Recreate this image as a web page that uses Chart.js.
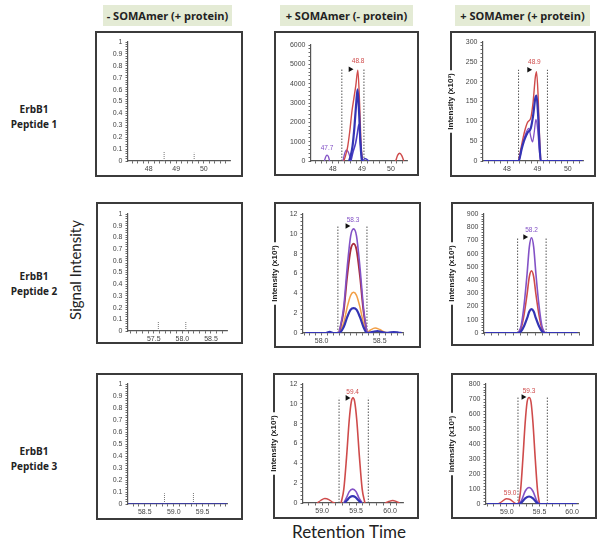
<!DOCTYPE html>
<html>
<head>
<meta charset="utf-8">
<script src="https://cdn.jsdelivr.net/npm/chart.js@4.4.0/dist/chart.umd.min.js"></script>
<style>
  body { margin:0; width:602px; height:547px; background:#fff; position:relative; overflow:hidden; font-family:"Open Sans", sans-serif; }
  .hdr { position:absolute; top:5px; height:21px; background:#e4ebd5; color:#222; font-weight:700; font-size:11px;
         display:flex; align-items:center; justify-content:center; white-space:nowrap; }
  .rowlab { position:absolute; left:0; width:68px; text-align:center; font-weight:700; font-size:10px; line-height:15px; color:#222; }
  .axt { position:absolute; font-family:Lato, sans-serif; color:#222; white-space:nowrap; }
  canvas { position:absolute; }
</style>
</head>
<body>
<div class="hdr" style="left:103px;width:129px;">- SOMAmer (+ protein)</div>
<div class="hdr" style="left:280px;width:133px;">+ SOMAmer (- protein)</div>
<div class="hdr" style="left:455px;width:135px;">+ SOMAmer (+ protein)</div>

<div class="rowlab" style="top:102px;">ErbB1<br>Peptide 1</div>
<div class="rowlab" style="top:269px;">ErbB1<br>Peptide 2</div>
<div class="rowlab" style="top:444px;">ErbB1<br>Peptide 3</div>

<div class="axt" style="left:75px;top:270px;font-size:15px;transform:translate(-50%,-50%) rotate(-90deg);">Signal Intensity</div>
<div class="axt" style="left:349px;top:531px;font-size:17px;transform:translate(-50%,-50%);">Retention Time</div>

<script>
const FONT = 'Arial, "Liberation Sans", sans-serif';
const TITLE = 'Intensity (x10\u00B3)';
const RED = '#cf4b4b', DRED = '#a82c3c', BLUE = '#3434b4', BLUE2 = '#4a3cc4', PURPLE = '#8352c6', ORANGE = '#f2a048';

// column 1: no signal, only the faint integration marks [x, height]
const p1Marks = [[48.56, 0.078], [49.65, 0.07]];
const p4Marks = [[57.58, 0.08], [58.06, 0.08]];
const p7Marks = [[58.84, 0.09], [59.34, 0.1]];
const p7Base = [[58.21, 0], [59.92, 0]];

// peptide 1, + SOMAmer (- protein)
const p2Red = [[48.38,0],[48.44,300],[48.50,650],[48.58,1500],[48.66,2600],[48.72,3200],[48.79,3900],[48.86,4700],[48.92,3000],[48.97,900],[49.02,0]];
const p2RedBump = [[50.16,0],[50.23,300],[50.30,400],[50.37,280],[50.44,0]];
const p2Blue = [[48.56,0],[48.62,300],[48.68,800],[48.74,1700],[48.80,2900],[48.85,3700],[48.90,2600],[48.95,900],[49.00,0]];
const p2Blue2 = [[48.62,0],[48.70,500],[48.78,900],[48.84,1400],[48.90,1900],[48.95,1000],[49.00,0]];
const p2BlueTail = [[49.04,0],[49.10,130],[49.17,80],[49.24,0]];
const p2Purple = [[47.71,0],[47.75,200],[47.80,300],[47.85,220],[47.89,0]];
const p2Purple2 = [[48.35,0],[48.40,350],[48.46,560],[48.52,500],[48.58,250],[48.62,0]];

// peptide 1, + SOMAmer (+ protein)
const p3Red = [[48.38,0],[48.48,40],[48.58,75],[48.68,98],[48.78,108],[48.86,150],[48.93,210],[48.97,225],[49.02,170],[49.07,60],[49.11,0]];
const p3Blue = [[47.25,0],[48.38,0],[48.48,30],[48.58,55],[48.68,72],[48.78,82],[48.86,115],[48.93,158],[48.97,165],[49.02,120],[49.07,40],[49.11,0],[50.48,0]];
const p3Purple = [[48.40,0],[48.52,45],[48.62,70],[48.72,82],[48.78,62],[48.84,48],[48.90,75],[48.95,105],[49.00,85],[49.06,30],[49.10,0]];

// peptide 2, + SOMAmer (- protein)
const p5Purple = [[58.15,0],[58.19,2.6],[58.22,6.6],[58.25,9.8],[58.275,10.5],[58.30,9.8],[58.33,6.6],[58.36,2.6],[58.39,0]];
const p5Red = [[58.15,0],[58.19,2.2],[58.22,5.7],[58.25,8.4],[58.275,9.0],[58.30,8.4],[58.33,5.7],[58.36,2.2],[58.39,0]];
const p5Orange = [[58.15,0],[58.19,1.0],[58.22,2.6],[58.25,3.8],[58.275,4.1],[58.30,3.8],[58.33,2.6],[58.36,1.0],[58.39,0.05],[58.42,0.3],[58.46,0.5],[58.50,0.35],[58.55,0.05],[58.62,0]];
const p5Blue = [[57.86,0],[58.03,0],[58.07,0.12],[58.10,0],[58.15,0],[58.19,0.6],[58.22,1.6],[58.25,2.35],[58.275,2.5],[58.30,2.35],[58.33,1.6],[58.36,0.6],[58.39,0],[58.44,0.12],[58.48,0.2],[58.52,0.1],[58.57,0.02],[58.62,0.1],[58.66,0.05],[58.69,0]];

// peptide 2, + SOMAmer (+ protein)
const p6Purple = [[58.02,0],[58.06,60],[58.10,220],[58.14,450],[58.17,650],[58.20,720],[58.23,650],[58.26,450],[58.30,220],[58.34,60],[58.38,0]];
const p6Red = [[58.02,0],[58.06,40],[58.10,145],[58.14,295],[58.17,425],[58.20,470],[58.23,425],[58.26,295],[58.30,145],[58.34,40],[58.38,0]];
const p6Blue = [[57.57,0],[58.02,0],[58.06,15],[58.10,55],[58.14,112],[58.17,162],[58.20,180],[58.23,162],[58.26,112],[58.30,55],[58.34,15],[58.38,0],[58.83,0]];

// peptide 3, + SOMAmer (- protein)
const p8Red = [[59.28,0],[59.32,1.4],[59.36,4.6],[59.40,8.4],[59.43,10.2],[59.455,10.6],[59.48,10.2],[59.51,8.4],[59.55,4.6],[59.59,1.4],[59.63,0]];
const p8RedBump1 = [[58.93,0],[58.98,0.25],[59.04,0.45],[59.10,0.35],[59.15,0.1],[59.19,0]];
const p8RedBump2 = [[59.93,0],[59.98,0.15],[60.04,0.25],[60.09,0.15],[60.14,0]];
const p8Purple = [[59.32,0],[59.36,0.55],[59.40,1.15],[59.45,1.4],[59.50,1.15],[59.54,0.55],[59.59,0]];
const p8Blue = [[59.33,0],[59.37,0.3],[59.41,0.6],[59.45,0.7],[59.49,0.6],[59.53,0.3],[59.58,0]];

// peptide 3, + SOMAmer (+ protein)
const p9Red = [[59.18,0],[59.21,90],[59.245,300],[59.28,540],[59.31,680],[59.34,710],[59.37,680],[59.40,540],[59.435,300],[59.47,90],[59.50,0]];
const p9RedBump = [[58.86,0],[58.92,15],[58.99,35],[59.05,30],[59.11,10],[59.15,0]];
const p9Purple = [[59.18,0],[59.22,20],[59.28,85],[59.34,110],[59.40,85],[59.46,20],[59.50,0]];
const p9Blue = [[58.70,0],[59.18,0],[59.22,8],[59.28,38],[59.34,50],[59.40,38],[59.46,8],[59.50,0],[60.07,0]];

// axis ranges: [min, max, major step, minor step, decimals]
const panels = [
  { box:[96,32,242,176],  plot:[128,42,230,161], x:[47.25,50.95,1,0.2,0],   y:[0,1,0.1,0.02,1],  title:false,
    curves:[], marks:p1Marks },
  { box:[275,32,418,175], plot:[311,45,407,161], x:[47.25,50.55,1,0.2,0],   y:[0,6000,1000,200,0], title:false,
    curves:[[p2Blue,BLUE,2.2],[p2Blue2,BLUE2,1.6],[p2BlueTail,BLUE2,1.4],[p2Red,RED,1.4],[p2RedBump,RED,1.4],[p2Purple,PURPLE,1.3],[p2Purple2,PURPLE,1.3]],
    bounds:[48.31,49.07,4750], arrow:[48.6,4750], labels:[[48.87,5150,'48.8',RED],[47.8,650,'47.7',PURPLE]] },
  { box:[451,32,595,176], plot:[483,42,583,161], x:[47.21,50.5,1,0.2,0],    y:[0,300,50,10,0],   title:true,
    curves:[[p3Blue,BLUE,2.2],[p3Purple,PURPLE,1.3],[p3Red,RED,1.4]],
    bounds:[48.38,49.33,230], arrow:[48.72,230], labels:[[48.9,248,'48.9',RED]] },
  { box:[97,203,242,343], plot:[128,214,227,331], x:[57.05,58.78,0.5,0.1,1], y:[0,1,0.1,0.02,1],  title:false,
    curves:[], marks:p4Marks },
  { box:[275,203,420,347], plot:[303,214,403,333], x:[57.84,58.70,0.5,0.05,1], y:[0,12,2,0.4,0],  title:true,
    curves:[[p5Blue,BLUE,2.2],[p5Purple,PURPLE,1.6],[p5Red,DRED,1.8],[p5Orange,ORANGE,1.5]],
    bounds:[58.14,58.39,10.8], arrow:[58.22,10.8], labels:[[58.27,11.4,'58.3',PURPLE]] },
  { box:[452,203,593,345], plot:[484,214,579,333], x:[57.55,58.85,0.5,0.1,1], y:[0,900,100,20,0], title:true,
    curves:[[p6Blue,BLUE,2.2],[p6Purple,PURPLE,1.6],[p6Red,RED,1.6]],
    bounds:[58.01,58.40,726], arrow:[58.11,726], labels:[[58.2,775,'58.2',PURPLE]] },
  { box:[97,374,242,519], plot:[128,384,227,504], x:[58.21,59.92,0.5,0.1,1], y:[0,1,0.1,0.02,1],  title:false,
    curves:[[p7Base,BLUE,1.6]], marks:p7Marks },
  { box:[274,374,418,518], plot:[303,384,403,503], x:[58.72,60.19,0.5,0.1,1], y:[0,12,2,0.4,0],  title:true,
    curves:[[p8Blue,BLUE,2.2],[p8Purple,PURPLE,1.6],[p8Red,RED,1.6],[p8RedBump1,RED,1.4],[p8RedBump2,RED,1.4]],
    bounds:[59.25,59.68,10.6], arrow:[59.37,10.6], labels:[[59.45,11.2,'59.4',RED]] },
  { box:[452,374,596,518], plot:[486,384,578,504], x:[58.68,60.09,0.5,0.1,1], y:[0,800,100,20,0], title:true,
    curves:[[p9Blue,BLUE,2.2],[p9Purple,PURPLE,1.6],[p9Red,RED,1.6],[p9RedBump,RED,1.4]],
    bounds:[59.17,59.62,713], arrow:[59.25,713], labels:[[59.34,755,'59.3',RED],[59.05,75,'59.0',RED]] }
];

const pts = a => a.map(p => ({ x: p[0], y: p[1] }));
const isMajor = (v, step) => Math.abs(v / step - Math.round(v / step)) < 1e-6;

function axis(r, sizeFit, horizontal) {
  const [min, max, major, minor, dec] = r;
  return {
    type: 'linear', min, max,
    border: { display: true, color: '#555', width: 1.2 },
    grid: { display: true, drawOnChartArea: false, drawTicks: true, tickLength: 2.5, color: '#444', lineWidth: 0.8 },
    ticks: {
      stepSize: minor, autoSkip: false, includeBounds: false, maxRotation: 0, minRotation: 0,
      padding: horizontal ? 1 : 3, color: '#444', font: { size: 7, family: FONT },
      callback: v => isMajor(v, major) ? (dec ? (horizontal ? v.toFixed(dec) : String(+v.toFixed(dec))) : String(Math.round(v))) : ''
    },
    afterFit: sizeFit
  };
}

panels.forEach(p => {
  const [bl, bt, br, bb] = p.box, [pl, pt, pr, pb] = p.plot;
  const cl = bl - 9, ct = bt - 3, cw = br - bl + 12, ch = bb - bt + 6;
  const cv = document.createElement('canvas');
  cv.width = cw; cv.height = ch;
  cv.style.left = cl + 'px'; cv.style.top = ct + 'px';
  document.body.appendChild(cv);

  const ds = [];
  if (p.arrow) ds.push({ data: pts([p.arrow]), showLine: false, pointStyle: 'triangle', rotation: 90,
    pointRadius: 3.2, backgroundColor: '#111', borderColor: '#111', borderWidth: 0 });
  p.curves.forEach(([d, col, w]) => ds.push({ data: pts(d), borderColor: col, borderWidth: w,
    pointRadius: 0, fill: false, cubicInterpolationMode: 'monotone' }));
  if (p.bounds) {
    const [x1, x2, top] = p.bounds;
    [x1, x2].forEach(x => ds.push({ data: pts([[x, 0], [x, top]]), borderColor: '#555', borderWidth: 1,
      borderDash: [1.5, 1.5], pointRadius: 0 }));
  }
  (p.marks || []).forEach(([x, h]) => ds.push({ data: pts([[x, 0], [x, h]]), borderColor: '#777',
    borderWidth: 1, borderDash: [1, 1], pointRadius: 0 }));

  const frame = {
    id: 'frame',
    beforeDraw(chart) {
      const c = chart.ctx;
      c.save();
      c.fillStyle = '#fff';
      c.fillRect(0, 0, cw, ch);
      c.strokeStyle = '#3b3b3b'; c.lineWidth = 2;
      c.strokeRect(9, 3, br - bl, bb - bt);
      if (p.title) {
        c.font = 'bold 8px ' + FONT;
        const w = c.measureText(TITLE).width;
        const cy = (chart.chartArea.top + chart.chartArea.bottom) / 2;
        c.fillRect(4, cy - w / 2 - 3, 10, w + 6);
      }
      c.restore();
    }
  };
  const peakText = {
    id: 'peakText',
    afterDatasetsDraw(chart) {
      const c = chart.ctx, sx = chart.scales.x, sy = chart.scales.y;
      c.save();
      c.font = '6.5px ' + FONT;
      c.textAlign = 'center'; c.textBaseline = 'middle';
      (p.labels || []).forEach(([x, y, t, col]) => {
        c.fillStyle = col;
        c.fillText(t, sx.getPixelForValue(x), sy.getPixelForValue(y));
      });
      c.restore();
    }
  };

  const yScale = axis(p.y, s => { s.width = pl - cl; }, false);
  yScale.title = { display: p.title, text: TITLE, color: '#222',
    font: { size: 8, weight: 'bold', family: FONT }, padding: { top: 4.2, bottom: 0 } };

  new Chart(cv, {
    type: 'line',
    data: { datasets: ds },
    options: {
      responsive: false, animation: false, devicePixelRatio: 1,
      layout: { padding: { left: 0, top: pt - ct, right: (cl + cw) - pr, bottom: 0 } },
      plugins: { legend: { display: false }, tooltip: { enabled: false } },
      scales: {
        x: axis(p.x, s => { s.height = (ct + ch) - pb; }, true),
        y: yScale
      }
    },
    plugins: [frame, peakText]
  });
});
</script>
</body>
</html>
